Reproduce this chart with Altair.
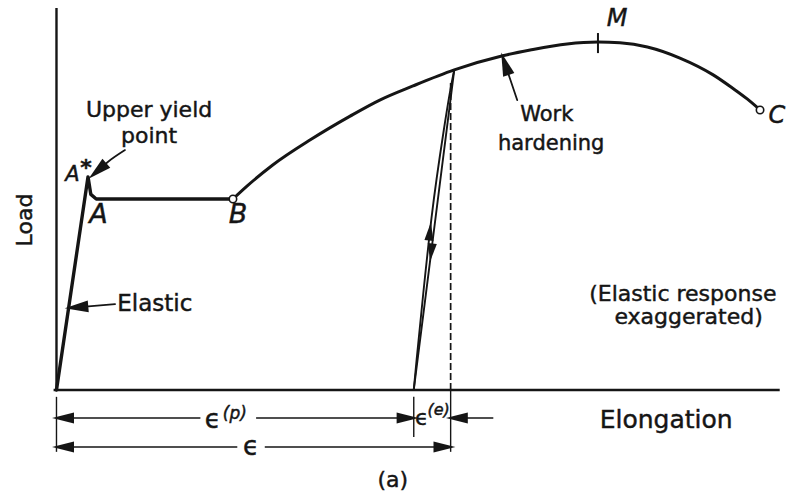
import math
import altair as alt
import pandas as pd

INK = "#151515"
FONT = "DejaVu Sans"
W, H = 797, 495

# Diagram coordinates: elongation and load, both 0..100 along the drawn axes
X_DOMAIN = [-7.81, 102.39]
Y_DOMAIN = [-27.5, 102.1]
PX_X = W / (X_DOMAIN[1] - X_DOMAIN[0])
PX_Y = H / (Y_DOMAIN[1] - Y_DOMAIN[0])

# Elastic rise, upper yield point A*, drop to A, yield plateau to B
yield_elong = [0.0, 4.36, 4.75, 5.5, 24.4]
yield_load = [0.0, 55.8, 51.2, 50.0, 50.0]

# Work-hardening branch B -> M (maximum) -> C (fracture)
harden_elong = [24.4, 26.3, 29.9, 35.1, 40.6, 44.7, 49.3, 55.0, 61.7, 65.5,
                70.6, 74.9, 77.9, 81.7, 86.2, 90.8, 93.5, 95.5, 97.3]
harden_load = [50.0, 53.3, 58.9, 65.5, 71.7, 75.9, 79.6, 83.8, 87.5, 89.0,
               90.6, 91.1, 90.9, 89.8, 86.9, 82.5, 79.0, 76.2, 73.3]

# Unloading and reloading loop
unload_elong = [55.0, 49.4]
unload_load = [83.8, 0.0]
reload_elong = [49.4, 49.8, 50.7, 51.85, 53.55, 54.6, 55.0]
reload_load = [0.0, 8.0, 25.0, 45.0, 68.0, 80.0, 83.8]

# Key points
B_POINT = (24.4, 50.0)
C_POINT = (97.28, 73.3)
M_ELONG = 74.87
EPS_P = 49.4      # permanent elongation
EPS_TOTAL = 54.5  # total elongation at unloading

XS = alt.Scale(domain=X_DOMAIN, nice=False, zero=False)
YS = alt.Scale(domain=Y_DOMAIN, nice=False, zero=False)


def xy():
    return dict(x=alt.X("x:Q", scale=XS, axis=None),
                y=alt.Y("y:Q", scale=YS, axis=None))


def polyline(xs, ys, width, dash=None, interp="linear"):
    df = pd.DataFrame({"x": xs, "y": ys, "i": list(range(len(xs)))})
    kw = dict(color=INK, strokeWidth=width, interpolate=interp,
              strokeCap="round", strokeJoin="round")
    if dash:
        kw["strokeDash"] = dash
        kw["strokeCap"] = "butt"
    return alt.Chart(df).mark_line(**kw).encode(order=alt.Order("i:Q"), **xy())


def segments(rows, width):
    df = pd.DataFrame(rows, columns=["x", "y", "x2", "y2"])
    return alt.Chart(df).mark_rule(color=INK, strokeWidth=width).encode(
        x2="x2:Q", y2="y2:Q", **xy())


HEAD = "M0,-1L0.5,1L-0.5,1Z"


def heads(rows, size):
    """rows: (x_from, y_from, x_tip, y_tip); draws a filled head at each tip."""
    recs = []
    back = math.sqrt(size) / 4  # half the drawn head length
    for x0, y0, x1, y1 in rows:
        dxp = (x1 - x0) * PX_X
        dyp = (y1 - y0) * PX_Y
        n = math.hypot(dxp, dyp)
        recs.append({
            "x": x1 - dxp / n * back / PX_X,
            "y": y1 - dyp / n * back / PX_Y,
            "angle": math.degrees(math.atan2(dxp, dyp)) % 360,
        })
    return alt.Chart(pd.DataFrame(recs)).mark_point(
        shape=HEAD, filled=True, color=INK, size=size, opacity=1, strokeWidth=0
    ).encode(angle=alt.Angle("angle:Q", scale=None), **xy())


def texts(rows, size, style="normal", align="center", baseline="middle", angle=0, weight="normal"):
    df = pd.DataFrame(rows, columns=["t", "x", "y"])
    kw = dict(font=FONT, fontSize=size, fontStyle=style, align=align,
              baseline=baseline, color=INK, fontWeight=weight,
              stroke=INK, strokeWidth=0.45)
    if angle:
        kw["angle"] = angle
    return alt.Chart(df).mark_text(**kw).encode(text="t:N", **xy())


layers = [
    # axes
    segments([(0, 0, 0, 100), (-0.4, 0, 100, 0)], 2.4),
    # load curve
    polyline(yield_elong, yield_load, 3.4),
    polyline(harden_elong, harden_load, 3.0, interp="monotone"),
    # unloading / reloading
    polyline(unload_elong, unload_load, 1.9),
    polyline(reload_elong, reload_load, 1.9, interp="monotone"),
    polyline([EPS_TOTAL, EPS_TOTAL], [0, 80.5], 1.7, dash=[7, 3]),
    # M tick
    segments([(M_ELONG, 93.45, M_ELONG, 88.2)], 2.0),
    # dimension and extension lines
    segments([
        (0, -1.8, 0, -16.2),
        (EPS_P, -1.8, EPS_P, -12.3),
        (EPS_TOTAL, 0, EPS_TOTAL, -16.2),
        (0, -7.34, 19.9, -7.34),
        (27.6, -7.34, EPS_P, -7.34),
        (EPS_TOTAL, -7.34, 60.4, -7.34),
        (0, -14.92, 25.0, -14.92),
        (28.8, -14.92, EPS_TOTAL, -14.92),
    ], 1.4),
    # pointer lines
    polyline([9.47, 7.1, 5.05], [62.8, 59.7, 56.3], 1.8, interp="monotone"),
    polyline([8.1, 1.95], [22.5, 21.5], 1.8),
    polyline([63.7, 61.75], [75.9, 86.9], 1.8),
    heads([
        (7.1, 59.7, 5.05, 56.3),
        (8.1, 22.5, 1.95, 21.5),
        (63.7, 75.9, 61.75, 86.9),
    ], 560),
    heads([
        (5, -7.34, 0.15, -7.34),
        (44, -7.34, EPS_P - 0.1, -7.34),
        (60.4, -7.34, EPS_TOTAL + 0.1, -7.34),
        (5, -14.92, 0.15, -14.92),
        (50, -14.92, EPS_TOTAL - 0.1, -14.92),
    ], 480),
    heads([
        (50.7, 25.0, 51.7, 42.7),
        (55.0, 83.8, 51.73, 34.8),
    ], 330),
    # open circles at B and C
    alt.Chart(pd.DataFrame({"x": [B_POINT[0], C_POINT[0]], "y": [B_POINT[1], C_POINT[1]]}))
    .mark_point(shape="circle", filled=True, fill="white", stroke=INK,
                strokeWidth=1.6, size=55, opacity=1)
    .encode(**xy()),
    # text
    texts([("Upper yield", 12.8, 73.3), ("point", 12.8, 66.4),
           ("(Elastic response", 86.6, 25.1), ("exaggerated)", 87.4, 19.1),
           ("(a)", 46.5, -23.6)], 22),
    texts([("Elastic", 13.6, 22.5)], 23),
    texts([("Work", 67.8, 72.0), ("hardening", 68.4, 64.4)], 21),
    texts([("Elongation", 84.3, -7.9)], 25),
    texts([("Load", -4.35, 44.5)], 22, angle=270),
    texts([("A", 5.8, 45.8), ("B", 25.1, 45.8)], 27, style="italic"),
    texts([("M", 77.5, 97.1), ("C", 99.6, 71.7)], 24, style="italic"),
    texts([("A", 2.2, 56.3)], 21, style="italic"),
    texts([("*", 4.08, 56.2)], 22, baseline="alphabetic", weight="bold"),
    texts([("ϵ", 21.6, -9.9), ("ϵ", 26.9, -17.0)], 26, baseline="alphabetic"),
    texts([("ϵ", 50.5, -9.2)], 22, baseline="alphabetic"),
    texts([("(p)", 23.0, -7.6)], 17, style="italic", align="left", baseline="alphabetic"),
    texts([("(e)", 51.3, -6.5)], 16, style="italic", align="left", baseline="alphabetic"),
]

chart = (
    alt.layer(*layers)
    .properties(width=W, height=H, padding=0,
                autosize=alt.AutoSizeParams(type="none"), background="white")
    .configure_view(stroke=None)
)

chart.save("out.html", embed_options={"renderer": "svg", "actions": False})
